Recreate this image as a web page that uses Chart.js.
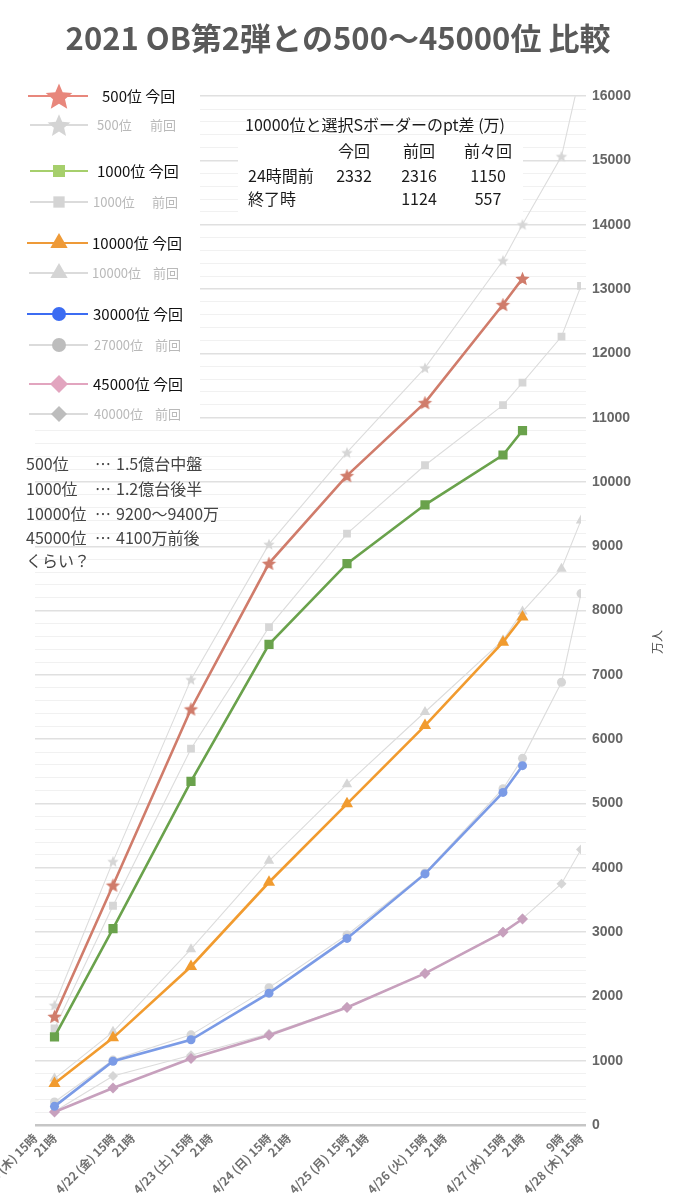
<!DOCTYPE html>
<html>
<head>
<meta charset="utf-8">
<script src="https://cdn.jsdelivr.net/npm/chart.js@4.4.1/dist/chart.umd.min.js"></script>
<style>
  html, body { margin: 0; padding: 0; background: #fff; }
  #wrap { width: 675px; height: 1200px; }
</style>
</head>
<body>
<div id="wrap"><canvas id="chart" width="675" height="1200"></canvas></div>
<script>
const JP = '"Noto Sans CJK JP", "Noto Sans", sans-serif';

// x axis: one slot every 6 hours, 4/21 15時 .. 4/28 15時
const slots = [
  "4/21 (木) 15時", "21時", "", "",
  "4/22 (金) 15時", "21時", "", "",
  "4/23 (土) 15時", "21時", "", "",
  "4/24 (日) 15時", "21時", "", "",
  "4/25 (月) 15時", "21時", "", "",
  "4/26 (火) 15時", "21時", "", "",
  "4/27 (水) 15時", "21時", "", "9時",
  "4/28 (木) 15時",
];
const nowAt = [1, 4, 8, 12, 16, 20, 24, 25];
const prevAt = [1, 4, 8, 12, 16, 20, 24, 25, 27, 28];

// 今回 (万pt)
const now500 = [1690, 3730, 6470, 8735, 10100, 11235, 12760, 13165];
const now1000 = [1370, 3055, 5345, 7475, 8730, 9645, 10420, 10800];
const now10000 = [645, 1355, 2465, 3775, 4995, 6212, 7509, 7900];
const now30000 = [290, 992, 1325, 2050, 2902, 3905, 5172, 5588];
const now45000 = [202, 576, 1033, 1395, 1828, 2357, 2996, 3204];

// 前回 (万pt)
const prev500 = [1865, 4100, 6930, 9033, 10459, 11776, 13445, 14006, 15066, 16400];
const prev1000 = [1501, 3410, 5853, 7743, 9197, 10261, 11196, 11546, 12262, 13050];
const prev10000 = [722, 1449, 2734, 4108, 5301, 6423, 7540, 7985, 8651, 9403];
const prev27000 = [358, 1010, 1402, 2136, 2955, 3920, 5230, 5702, 6886, 8265];
const prev40000 = [210, 763, 1086, 1420, 1835, 2360, 3000, 3210, 3752, 4286];

const nowNames = ["500位", "1000位", "10000位", "30000位", "45000位"];
const prevNames = ["500位", "1000位", "10000位", "27000位", "40000位"];

const gapTitle = "10000位と選択Sボーダーのpt差 (万)";
const gapHeader = ["今回", "前回", "前々回"];
const gapRows = [
  ["24時間前", "2332", "2316", "1150"],
  ["終了時", "", "1124", "557"],
];
const notes = [
  ["500位", "…", "1.5億台中盤"],
  ["1000位", "…", "1.2億台後半"],
  ["10000位", "…", "9200～9400万"],
  ["45000位", "…", "4100万前後"],
  ["くらい？", "", ""],
];

function spread(values, at) {
  const out = slots.map(() => null);
  at.forEach((i, k) => { out[i] = values[k]; });
  return out;
}

function starCanvas(color, outer) {
  const inner = outer * 0.45;
  const size = Math.ceil(outer * 2 + 2);
  const c = document.createElement("canvas");
  c.width = c.height = size;
  const g = c.getContext("2d");
  g.fillStyle = color;
  g.beginPath();
  for (let i = 0; i < 10; i++) {
    const r = i % 2 ? inner : outer;
    const a = -Math.PI / 2 + (i * Math.PI) / 5;
    g.lineTo(size / 2 + r * Math.cos(a), size / 2 + r * Math.sin(a) + outer * 0.1);
  }
  g.closePath();
  g.fill();
  return c;
}

const GRAY_LINE = "#dcdcdc";
const GRAY_PT = "#d6d6d6";

function nowSet(label, values, color, pointStyle, radius) {
  return {
    label,
    data: spread(values, nowAt),
    borderColor: color,
    backgroundColor: color,
    pointBackgroundColor: color,
    pointBorderColor: color,
    pointBorderWidth: 0,
    borderWidth: 2.6,
    pointStyle,
    pointRadius: radius,
    spanGaps: true,
    tension: 0,
    order: 1,
  };
}

function prevSet(label, values, pointStyle, radius) {
  return {
    label,
    data: spread(values, prevAt),
    borderColor: GRAY_LINE,
    backgroundColor: GRAY_PT,
    pointBackgroundColor: GRAY_PT,
    pointBorderColor: GRAY_PT,
    pointBorderWidth: 0,
    borderWidth: 1.1,
    pointStyle,
    pointRadius: radius,
    spanGaps: true,
    tension: 0,
    clip: 0,
    order: 2,
  };
}

const decor = {
  id: "decor",
  afterDraw(chart) {
    const ctx = chart.ctx;
    const H = Chart.helpers;
    ctx.save();

    // legend
    ctx.fillStyle = "#fff";
    ctx.fillRect(0, 76, 200, 354);
    const rows = [
      { y: 96, name: nowNames[0], now: true, color: "#e8877c", style: starCanvas("#e8877c", 14), r: 14, x0: 28, tx: 102 },
      { y: 125, name: prevNames[0], now: false, color: "#d4d4d4", style: starCanvas("#d4d4d4", 12), r: 12, x0: 30, tx: 97, tag: 150 },
      { y: 171, name: nowNames[1], now: true, color: "#a6cf6c", style: "rect", r: 8.5, x0: 30, tx: 97 },
      { y: 202, name: prevNames[1], now: false, color: "#d4d4d4", style: "rect", r: 8, x0: 30, tx: 93, tag: 152 },
      { y: 243, name: nowNames[2], now: true, color: "#ee9a38", style: "triangle", r: 10, x0: 27, tx: 92 },
      { y: 273, name: prevNames[2], now: false, color: "#d4d4d4", style: "triangle", r: 10, x0: 29, tx: 92, tag: 153 },
      { y: 314, name: nowNames[3], now: true, color: "#3c6cf2", style: "circle", r: 7, x0: 27, tx: 93 },
      { y: 345, name: prevNames[3], now: false, color: "#bdbdbd", style: "circle", r: 7, x0: 29, tx: 94, tag: 155 },
      { y: 384, name: nowNames[4], now: true, color: "#e2a5bf", style: "rectRot", r: 9, x0: 29, tx: 93 },
      { y: 414, name: prevNames[4], now: false, color: "#bdbdbd", style: "rectRot", r: 8, x0: 29, tx: 94, tag: 155 },
    ];
    ctx.textBaseline = "middle";
    ctx.textAlign = "left";
    rows.forEach((row) => {
      ctx.strokeStyle = row.now ? row.color : "#cfcfcf";
      ctx.lineWidth = row.now ? 2 : 1.5;
      ctx.beginPath();
      ctx.moveTo(row.x0, row.y);
      ctx.lineTo(88, row.y);
      ctx.stroke();
      ctx.fillStyle = row.color;
      ctx.strokeStyle = row.color;
      H.drawPoint(ctx, { pointStyle: row.style, radius: row.r, rotation: 0, borderWidth: 0 }, 59, row.y);
      if (row.now) {
        ctx.fillStyle = "#111";
        ctx.font = "15px " + JP;
        ctx.fillText(row.name + " 今回", row.tx, row.y);
      } else {
        ctx.fillStyle = "#b9b9b9";
        ctx.font = "13px " + JP;
        ctx.fillText(row.name, row.tx, row.y);
        ctx.fillText("前回", row.tag, row.y);
      }
    });

    // pt gap table
    ctx.fillStyle = "#fff";
    ctx.fillRect(238, 138, 285, 74);
    ctx.fillStyle = "#1a1a1a";
    ctx.font = "16px " + JP;
    ctx.textAlign = "left";
    ctx.fillText(gapTitle, 245, 125);
    const cols = [354, 419, 488];
    ctx.textAlign = "center";
    gapHeader.forEach((h, i) => ctx.fillText(h, cols[i], 151));
    gapRows.forEach((r, k) => {
      const y = 176 + k * 23;
      ctx.textAlign = "left";
      ctx.fillText(r[0], 248, y);
      ctx.textAlign = "center";
      for (let i = 1; i < r.length; i++) ctx.fillText(r[i], cols[i - 1], y);
    });

    // notes
    ctx.fillStyle = "#444";
    ctx.font = "16px " + JP;
    ctx.textAlign = "left";
    const noteY = [464, 489, 514, 538, 561];
    notes.forEach((n, k) => {
      ctx.fillText(n[0], 26, noteY[k]);
      ctx.fillText(n[1], 95, noteY[k]);
      ctx.fillText(n[2], 116, noteY[k]);
    });

    // y axis title
    ctx.translate(657, 642);
    ctx.rotate(-Math.PI / 2);
    ctx.textAlign = "center";
    ctx.fillStyle = "#555";
    ctx.font = "12px " + JP;
    ctx.fillText("万人", 0, 0);
    ctx.restore();
  },
};

new Chart(document.getElementById("chart"), {
  type: "line",
  data: {
    labels: slots,
    datasets: [
      nowSet("500位 今回", now500, "#d07c6b", starCanvas("#d07c6b", 7.5), 7),
      nowSet("1000位 今回", now1000, "#6aa24c", "rect", 6.5),
      nowSet("10000位 今回", now10000, "#f19b2f", "triangle", 7),
      nowSet("30000位 今回", now30000, "#7b9be6", "circle", 4.5),
      nowSet("45000位 今回", now45000, "#c7a0bd", "rectRot", 5.5),
      prevSet("500位 前回", prev500, starCanvas(GRAY_PT, 6), 6),
      prevSet("1000位 前回", prev1000, "rect", 5.5),
      prevSet("10000位 前回", prev10000, "triangle", 6),
      prevSet("27000位 前回", prev27000, "circle", 4.5),
      prevSet("40000位 前回", prev40000, "rectRot", 5),
    ],
  },
  options: {
    responsive: false,
    animation: false,
    layout: { padding: { left: 35, right: 34, top: 0, bottom: 0 } },
    plugins: {
      legend: { display: false },
      tooltip: { enabled: false },
      title: {
        display: true,
        text: "2021 OB第2弾との500～45000位 比較",
        color: "#595959",
        font: { family: JP, size: 31, weight: "bold" },
        padding: { top: 20, bottom: 39 },
      },
    },
    scales: {
      x: {
        type: "category",
        grid: { display: false, drawTicks: false },
        border: { display: false },
        ticks: {
          autoSkip: false,
          maxRotation: 45,
          minRotation: 45,
          padding: 6,
          color: "#707070",
          font: { family: JP, size: 12, weight: "bold" },
        },
        afterFit(scale) {
          scale.paddingLeft = 0;
          scale.paddingRight = 0;
          scale.height = 75;
        },
      },
      y: {
        position: "right",
        min: 0,
        max: 16000,
        border: { display: false },
        grid: {
          tickLength: 5,
          color: (c) => (c.tick.value === 0 ? "#c6c6c6" : c.tick.value % 1000 === 0 ? "#e0e0e0" : "#f1f1f1"),
          lineWidth: (c) => (c.tick.value === 0 ? 2.5 : c.tick.value % 1000 === 0 ? 1.5 : 1),
        },
        ticks: {
          stepSize: 200,
          autoSkip: false,
          padding: 6,
          color: "#666",
          font: { family: '"Liberation Sans", Arial, sans-serif', size: 14, weight: "bold" },
          callback: (v) => (v % 1000 === 0 ? String(v) : ""),
        },
        afterFit(scale) {
          scale.width = 60;
        },
      },
    },
  },
  plugins: [decor],
});
</script>
</body>
</html>
